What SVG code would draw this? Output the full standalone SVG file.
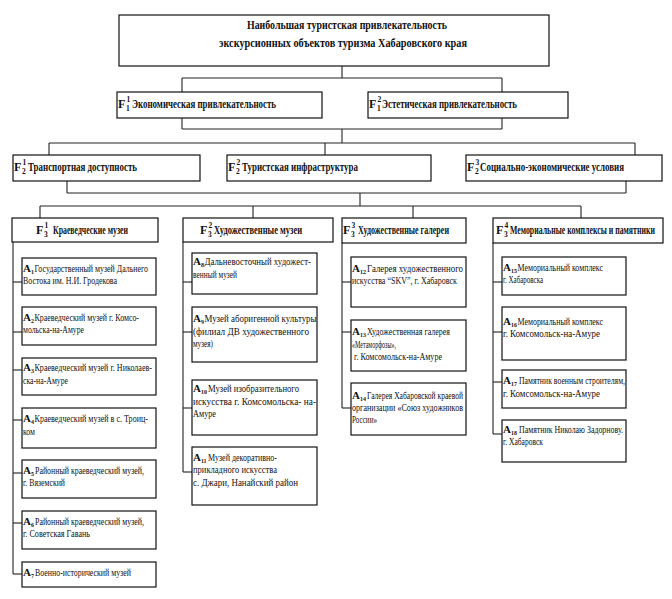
<svg xmlns="http://www.w3.org/2000/svg" width="672" height="599" viewBox="0 0 672 599">
<style>
.b{fill:#fff;stroke:#111;stroke-width:1.2}
.c line{stroke:#222;stroke-width:1.1}
text{font-family:"Liberation Serif","Times New Roman",serif;fill:#111}
.h{font-weight:bold;font-size:12px}
.f{font-weight:bold;font-size:12px}
.ix{font-size:7.5px;font-weight:bold}
.s{font-size:10.5px}
.a{font-weight:bold;font-size:11px}
.ai{font-size:6px;font-weight:bold}
</style>
<rect width="672" height="599" fill="#fff"/>
<g class="c" id="connectors">
<line x1="342" y1="66" x2="342" y2="78"/>
<line x1="182" y1="78" x2="502" y2="78"/>
<line x1="182" y1="78" x2="182" y2="92"/>
<line x1="502" y1="78" x2="502" y2="92"/>
<line x1="182" y1="118" x2="182" y2="129"/>
<line x1="502" y1="118" x2="502" y2="129"/>
<line x1="182" y1="129" x2="502" y2="129"/>
<line x1="342" y1="129" x2="342" y2="143"/>
<line x1="49" y1="143" x2="635" y2="143"/>
<line x1="49" y1="143" x2="49" y2="155"/>
<line x1="325" y1="143" x2="325" y2="155"/>
<line x1="635" y1="143" x2="635" y2="155"/>
<line x1="67" y1="181" x2="67" y2="193"/>
<line x1="626" y1="181" x2="626" y2="193"/>
<line x1="67" y1="193" x2="626" y2="193"/>
<line x1="360" y1="193" x2="360" y2="206"/>
<line x1="40" y1="206" x2="581" y2="206"/>
<line x1="40" y1="206" x2="40" y2="218"/>
<line x1="253" y1="206" x2="253" y2="218"/>
<line x1="413" y1="206" x2="413" y2="218"/>
<line x1="581" y1="206" x2="581" y2="218"/>
<line x1="13" y1="242" x2="13" y2="574"/>
<line x1="13" y1="282" x2="22" y2="282"/>
<line x1="13" y1="332" x2="22" y2="332"/>
<line x1="13" y1="370" x2="22" y2="370"/>
<line x1="13" y1="420" x2="22" y2="420"/>
<line x1="13" y1="473" x2="22" y2="473"/>
<line x1="13" y1="523" x2="22" y2="523"/>
<line x1="13" y1="574" x2="22" y2="574"/>
<line x1="183" y1="242" x2="183" y2="472"/>
<line x1="183" y1="282" x2="192" y2="282"/>
<line x1="183" y1="332" x2="192" y2="332"/>
<line x1="183" y1="408" x2="192" y2="408"/>
<line x1="183" y1="472" x2="192" y2="472"/>
<line x1="342" y1="243" x2="342" y2="408"/>
<line x1="342" y1="282" x2="351" y2="282"/>
<line x1="342" y1="332" x2="351" y2="332"/>
<line x1="342" y1="408" x2="351" y2="408"/>
<line x1="493" y1="243" x2="493" y2="434"/>
<line x1="493" y1="282" x2="502" y2="282"/>
<line x1="493" y1="332" x2="502" y2="332"/>
<line x1="493" y1="382" x2="502" y2="382"/>
<line x1="493" y1="434" x2="502" y2="434"/>
</g>

<g id="root">
<rect class="b" x="119" y="15" width="430" height="51"/>
<text class="h" x="247" y="29" textLength="200" lengthAdjust="spacingAndGlyphs">Наибольшая туристская привлекательность</text>
<text class="h" x="219" y="47" textLength="248" lengthAdjust="spacingAndGlyphs">экскурсионных объектов туризма Хабаровского края</text>
</g>

<g id="F1-1">
<rect class="b" x="117" y="92" width="205" height="26"/>
<text class="f" x="118" y="108">F<tspan class="ix" x="126" y="111">1</tspan><tspan class="ix" x="126.5" y="102">1</tspan></text>
<text class="f" x="132" y="108" textLength="144" lengthAdjust="spacingAndGlyphs">Экономическая привлекательность</text>
</g>
<g id="F1-2">
<rect class="b" x="368" y="92" width="200" height="26"/>
<text class="f" x="369" y="108">F<tspan class="ix" x="377" y="111">1</tspan><tspan class="ix" x="377.5" y="102">2</tspan></text>
<text class="f" x="382" y="108" textLength="135" lengthAdjust="spacingAndGlyphs">Эстетическая привлекательность</text>
</g>

<g id="F2-1">
<rect class="b" x="13" y="155" width="187" height="26"/>
<text class="f" x="14" y="171">F<tspan class="ix" x="22" y="174">2</tspan><tspan class="ix" x="22.5" y="165">1</tspan></text>
<text class="f" x="28" y="171" textLength="109" lengthAdjust="spacingAndGlyphs">Транспортная доступность</text>
</g>
<g id="F2-2">
<rect class="b" x="227" y="155" width="204" height="26"/>
<text class="f" x="228" y="171">F<tspan class="ix" x="236" y="174">2</tspan><tspan class="ix" x="236.5" y="165">2</tspan></text>
<text class="f" x="242" y="171" textLength="116" lengthAdjust="spacingAndGlyphs">Туристская инфраструктура</text>
</g>
<g id="F2-3">
<rect class="b" x="466" y="155" width="196" height="26"/>
<text class="f" x="467" y="171">F<tspan class="ix" x="475" y="174">2</tspan><tspan class="ix" x="475.5" y="165">3</tspan></text>
<text class="f" x="480" y="171" textLength="144" lengthAdjust="spacingAndGlyphs">Социально-экономические условия</text>
</g>

<g id="F3-1">
<rect class="b" x="12" y="218" width="146" height="24"/>
<text class="f" x="36" y="234">F<tspan class="ix" x="44" y="237">3</tspan><tspan class="ix" x="44.5" y="228">1</tspan></text>
<text class="f" x="53" y="234" textLength="75" lengthAdjust="spacingAndGlyphs">Краеведческие музеи</text>
</g>
<g id="F3-2">
<rect class="b" x="183" y="218" width="150" height="24"/>
<text class="f" x="200" y="234">F<tspan class="ix" x="208" y="237">3</tspan><tspan class="ix" x="208.5" y="228">2</tspan></text>
<text class="f" x="214" y="234" textLength="88" lengthAdjust="spacingAndGlyphs">Художественные музеи</text>
</g>
<g id="F3-3">
<rect class="b" x="342" y="218" width="124" height="25"/>
<text class="f" x="343" y="234">F<tspan class="ix" x="351" y="237">3</tspan><tspan class="ix" x="351.5" y="228">3</tspan></text>
<text class="f" x="358" y="234" textLength="91" lengthAdjust="spacingAndGlyphs">Художественные галереи</text>
</g>
<g id="F3-4">
<rect class="b" x="493" y="218" width="170" height="25"/>
<text class="f" x="496" y="234">F<tspan class="ix" x="504" y="237">3</tspan><tspan class="ix" x="504.5" y="228">4</tspan></text>
<text class="f" transform="translate(510,234) scale(0.7,1)" x="0" y="0" style="font-size:11.5px" textLength="207" lengthAdjust="spacingAndGlyphs">Мемориальные комплексы и памятники</text>
</g>

<g id="A1">
<rect class="b" x="22" y="258" width="134" height="37"/>
<text class="a" x="23" y="272">A<tspan class="ai" x="30.9" y="274">1</tspan></text>
<text class="s" x="34.5" y="272" textLength="113.5" lengthAdjust="spacingAndGlyphs">Государственный музей Дальнего</text>
<text class="s" x="23" y="284" textLength="94" lengthAdjust="spacingAndGlyphs">Востока им. Н.И. Гродекова</text>
</g>
<g id="A2">
<rect class="b" x="22" y="307" width="134" height="38"/>
<text class="a" x="23" y="321">A<tspan class="ai" x="30.9" y="323">2</tspan></text>
<text class="s" x="34.5" y="321" textLength="104.5" lengthAdjust="spacingAndGlyphs">Краеведческий музей г. Комсо-</text>
<text class="s" x="23" y="333" textLength="61" lengthAdjust="spacingAndGlyphs">мольска-на-Амуре</text>
</g>
<g id="A3">
<rect class="b" x="22" y="358" width="134" height="37"/>
<text class="a" x="23" y="371">A<tspan class="ai" x="30.9" y="373">3</tspan></text>
<text class="s" x="34.5" y="371" textLength="117.5" lengthAdjust="spacingAndGlyphs">Краеведческий музей г. Николаев-</text>
<text class="s" x="23" y="384" textLength="45" lengthAdjust="spacingAndGlyphs">ска-на-Амуре</text>
</g>
<g id="A4">
<rect class="b" x="22" y="408" width="134" height="40"/>
<text class="a" x="23" y="422">A<tspan class="ai" x="30.9" y="424">4</tspan></text>
<text class="s" x="34.5" y="422" textLength="113.5" lengthAdjust="spacingAndGlyphs">Краеведческий музей в  с. Троиц-</text>
<text class="s" x="23" y="435" textLength="12" lengthAdjust="spacingAndGlyphs">ком</text>
</g>
<g id="A5">
<rect class="b" x="22" y="460" width="134" height="38"/>
<text class="a" x="23" y="474">A<tspan class="ai" x="30.9" y="476">5</tspan></text>
<text class="s" x="35" y="474" textLength="109" lengthAdjust="spacingAndGlyphs">Районный краеведческий музей,</text>
<text class="s" x="23" y="486" textLength="42" lengthAdjust="spacingAndGlyphs">г. Вяземский</text>
</g>
<g id="A6">
<rect class="b" x="22" y="511" width="134" height="38"/>
<text class="a" x="23" y="525">A<tspan class="ai" x="30.9" y="527">6</tspan></text>
<text class="s" x="35" y="525" textLength="109" lengthAdjust="spacingAndGlyphs">Районный краеведческий музей,</text>
<text class="s" x="23" y="537" textLength="67" lengthAdjust="spacingAndGlyphs">г. Советская Гавань</text>
</g>
<g id="A7">
<rect class="b" x="22" y="562" width="134" height="25"/>
<text class="a" x="23" y="576">A<tspan class="ai" x="30.9" y="578">7</tspan></text>
<text class="s" x="35" y="576" textLength="96" lengthAdjust="spacingAndGlyphs">Военно-исторический музей</text>
</g>

<g id="A8">
<rect class="b" x="192" y="253" width="125" height="41"/>
<text class="a" x="193" y="265">A<tspan class="ai" x="200.9" y="267">8</tspan></text>
<text class="s" x="204.5" y="265" textLength="106.5" lengthAdjust="spacingAndGlyphs">Дальневосточный художест-</text>
<text class="s" x="193" y="278" textLength="44" lengthAdjust="spacingAndGlyphs">венный музей</text>
</g>
<g id="A9">
<rect class="b" x="192" y="307" width="125" height="55"/>
<text class="a" x="193" y="322">A<tspan class="ai" x="200.9" y="324">9</tspan></text>
<text class="s" x="204.5" y="322" textLength="112" lengthAdjust="spacingAndGlyphs">Музей аборигенной культуры</text>
<text class="s" x="193" y="335" textLength="116" lengthAdjust="spacingAndGlyphs">(филиал ДВ художественного</text>
<text class="s" x="193" y="347" textLength="20" lengthAdjust="spacingAndGlyphs">музея)</text>
</g>
<g id="A10">
<rect class="b" x="192" y="380" width="125" height="55"/>
<text class="a" x="193" y="392">A<tspan class="ai" x="200.9" y="394">10</tspan></text>
<text class="s" x="208" y="392" textLength="91" lengthAdjust="spacingAndGlyphs">Музей изобразительного</text>
<text class="s" x="193" y="405" textLength="123" lengthAdjust="spacingAndGlyphs">искусства г. Комсомольска- на-</text>
<text class="s" x="193" y="417" textLength="23" lengthAdjust="spacingAndGlyphs">Амуре</text>
</g>
<g id="A11">
<rect class="b" x="192" y="447" width="125" height="58"/>
<text class="a" x="193" y="461">A<tspan class="ai" x="200.9" y="463">11</tspan></text>
<text class="s" x="208" y="461" textLength="69" lengthAdjust="spacingAndGlyphs">Музей декоративно-</text>
<text class="s" x="193" y="473" textLength="84" lengthAdjust="spacingAndGlyphs">прикладного искусства</text>
<text class="s" x="193" y="486" textLength="105" lengthAdjust="spacingAndGlyphs">с. Джари, Нанайский район</text>
</g>

<g id="A12">
<rect class="b" x="351" y="257" width="115" height="50"/>
<text class="a" x="352" y="272">A<tspan class="ai" x="359.9" y="274">12</tspan></text>
<text class="s" x="367" y="272" textLength="96" lengthAdjust="spacingAndGlyphs">Галерея художественного</text>
<text class="s" x="352" y="284" textLength="105" lengthAdjust="spacingAndGlyphs">искусства “SKV”, г. Хабаровск</text>
</g>
<g id="A13">
<rect class="b" x="351" y="320" width="115" height="51"/>
<text class="a" x="352" y="335">A<tspan class="ai" x="359.9" y="337">13</tspan></text>
<text class="s" x="367" y="335" textLength="83" lengthAdjust="spacingAndGlyphs">Художественная галерея</text>
<text class="s" x="352" y="348" textLength="44" lengthAdjust="spacingAndGlyphs">«Метаморфозы»,</text>
<text class="s" x="354" y="360" textLength="88" lengthAdjust="spacingAndGlyphs">г. Комсомольск-на-Амуре</text>
</g>
<g id="A14">
<rect class="b" x="351" y="383" width="115" height="52"/>
<text class="a" x="352" y="399">A<tspan class="ai" x="359.9" y="401">14</tspan></text>
<text class="s" x="367" y="399" textLength="96" lengthAdjust="spacingAndGlyphs">Галерея Хабаровской краевой</text>
<text class="s" x="352" y="411" textLength="111" lengthAdjust="spacingAndGlyphs">организации «Союз художников</text>
<text class="s" x="352" y="423" textLength="25" lengthAdjust="spacingAndGlyphs">России»</text>
</g>

<g id="A15">
<rect class="b" x="502" y="257" width="124" height="38"/>
<text class="a" x="503" y="271">A<tspan class="ai" x="510.9" y="273">15</tspan></text>
<text class="s" x="517.5" y="271" textLength="85.5" lengthAdjust="spacingAndGlyphs">Мемориальный комплекс</text>
<text class="s" x="503" y="283" textLength="40" lengthAdjust="spacingAndGlyphs">г. Хабаровска</text>
</g>
<g id="A16">
<rect class="b" x="502" y="307" width="124" height="53"/>
<text class="a" x="503" y="325">A<tspan class="ai" x="510.9" y="327">16</tspan></text>
<text class="s" x="517.5" y="325" textLength="85.5" lengthAdjust="spacingAndGlyphs">Мемориальный комплекс</text>
<text class="s" x="503" y="337" textLength="97" lengthAdjust="spacingAndGlyphs">г. Комсомольск-на-Амуре</text>
</g>
<g id="A17">
<rect class="b" x="502" y="370" width="124" height="38"/>
<text class="a" x="503" y="384">A<tspan class="ai" x="510.9" y="386">17</tspan></text>
<text class="s" x="519" y="384" textLength="106" lengthAdjust="spacingAndGlyphs">Памятник военным строителям,</text>
<text class="s" x="503" y="397" textLength="97" lengthAdjust="spacingAndGlyphs">г. Комсомольск-на-Амуре</text>
</g>
<g id="A18">
<rect class="b" x="502" y="420" width="124" height="42"/>
<text class="a" x="503" y="433">A<tspan class="ai" x="510.9" y="435">18</tspan></text>
<text class="s" x="519" y="433" textLength="104" lengthAdjust="spacingAndGlyphs">Памятник Николаю Задорнову.</text>
<text class="s" x="503" y="445" textLength="40" lengthAdjust="spacingAndGlyphs">г. Хабаровск</text>
</g>
</svg>
